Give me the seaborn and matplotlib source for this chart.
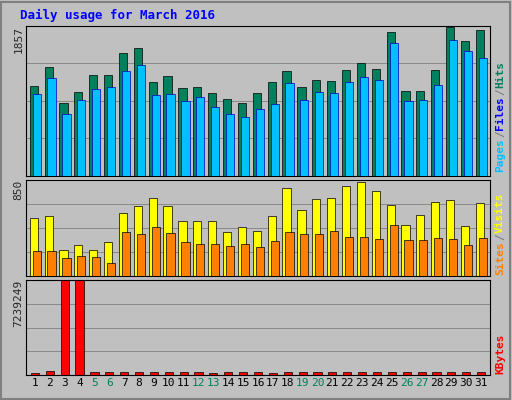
import numpy as np
import matplotlib.pyplot as plt
import seaborn as sns

sns.set_style("white")
plt.rcParams['font.family'] = ['DejaVu Sans Mono', 'DejaVu Sans']

days = list(range(1, 32))
weekend = [5, 6, 12, 13, 19, 20, 26, 27]

hits = [1116, 1355, 904, 1042, 1255, 1255, 1518, 1581, 1167, 1242, 1092, 1104,
        1029, 954, 904, 1029, 1167, 1305, 1104, 1192, 1180, 1318, 1405, 1330,
        1782, 1054, 1054, 1318, 1845, 1669, 1807]
files = [1016, 1217, 766, 941, 1079, 1104, 1305, 1380, 1004, 1016, 928, 979,
         853, 766, 728, 828, 891, 1154, 941, 1042, 1029, 1167, 1230, 1192,
         1644, 928, 941, 1129, 1681, 1543, 1455]
visits = [515, 533, 226, 271, 226, 298, 560, 624, 687, 624, 488, 488, 488,
          389, 434, 398, 533, 777, 587, 678, 687, 796, 832, 750, 633, 452,
          542, 651, 669, 443, 642]
sites = [217, 217, 163, 181, 172, 118, 389, 371, 434, 380, 298, 280, 280,
         262, 280, 253, 307, 389, 371, 371, 398, 343, 343, 325, 452, 316,
         316, 334, 325, 271, 334]
kbytes = [170000, 330000, 7239249, 7239249, 200000, 200000, 230000, 230000,
          200000, 200000, 230000, 200000, 150000, 230000, 230000, 200000,
          170000, 230000, 230000, 230000, 230000, 230000, 230000, 230000,
          230000, 230000, 230000, 230000, 230000, 230000, 230000]

W, H = 512, 400
fig = plt.figure(figsize=(W / 100, H / 100), dpi=100)
fig.patch.set_facecolor('#C0C0C0')
fig.patches.append(plt.Rectangle((1 / W, 1 / H), 1 - 3 / W, 1 - 3 / H, transform=fig.transFigure,
                                 fill=False, edgecolor='#808080', lw=1.5))

def panel(top, bottom):
    ax = fig.add_axes([26 / W, (H - bottom) / H, 464 / W, (bottom - top) / H])
    ax.set_facecolor('#C0C0C0')
    for s in ax.spines.values():
        s.set_color('black')
        s.set_linewidth(0.8)
    ax.set_xlim(0.4, 31.6)
    return ax

x = np.array(days)

def setup_y(ax, ymax):
    ax.set_ylim(0, ymax * 1.0)
    for f in [0.25, 0.5, 0.75]:
        ax.axhline(ymax * f, color='#808080', lw=0.6, zorder=0)
    ax.set_yticks([ymax])
    ax.set_yticklabels([str(ymax)], rotation=90, va='top', fontsize=8)
    ax.tick_params(axis='y', length=0, pad=2)

ax1 = panel(26, 176)
ax1.bar(x - 0.08, hits, width=0.55, color='#00805C', edgecolor='black', lw=0.5, zorder=2)
ax1.bar(x + 0.12, files, width=0.55, color='#00C0FF', edgecolor='#0000C0', lw=0.5, zorder=3)
setup_y(ax1, 1857)
ax1.set_xticks([])

ax2 = panel(180, 276)
ax2.bar(x - 0.08, visits, width=0.55, color='#FFFF00', edgecolor='black', lw=0.5, zorder=2)
ax2.bar(x + 0.12, sites, width=0.55, color='#FF8000', edgecolor='black', lw=0.5, zorder=3)
setup_y(ax2, 850)
ax2.set_xticks([])

ax3 = panel(280, 375)
ax3.bar(x, kbytes, width=0.55, color='#FF0000', edgecolor='black', lw=0.5, zorder=2)
setup_y(ax3, 7239249)
ax3.set_xticks(days)
ax3.set_xticklabels([str(d) for d in days], fontsize=8)
ax3.tick_params(axis='x', length=0, pad=2)
for lab, d in zip(ax3.get_xticklabels(), days):
    lab.set_color('#00805C' if d in weekend else 'black')

def side_label(ybot, parts):
    y = ybot
    for text, color in parts:
        fig.text(500 / W, y / H, text, rotation=90, color=color, fontsize=8,
                 fontweight='bold', ha='center', va='bottom')
        y += len(text) * 7.0

side_label(400 - 172, [('Pages', '#00C0FF'), ('/', '#808080'), ('Files', '#0000FF'),
                       ('/', '#808080'), ('Hits', '#00805C')])
side_label(400 - 275, [('Sites', '#FF8000'), ('/', '#808080'), ('Visits', '#FFFF00')])
side_label(400 - 374, [('KBytes', '#FF0000')])

fig.text(20 / W, 1 - 15 / H, 'Daily usage for March 2016', color='#0000FF', fontsize=9,
         fontweight='bold', va='center')

fig.savefig('out.png', dpi=100, facecolor=fig.get_facecolor())
